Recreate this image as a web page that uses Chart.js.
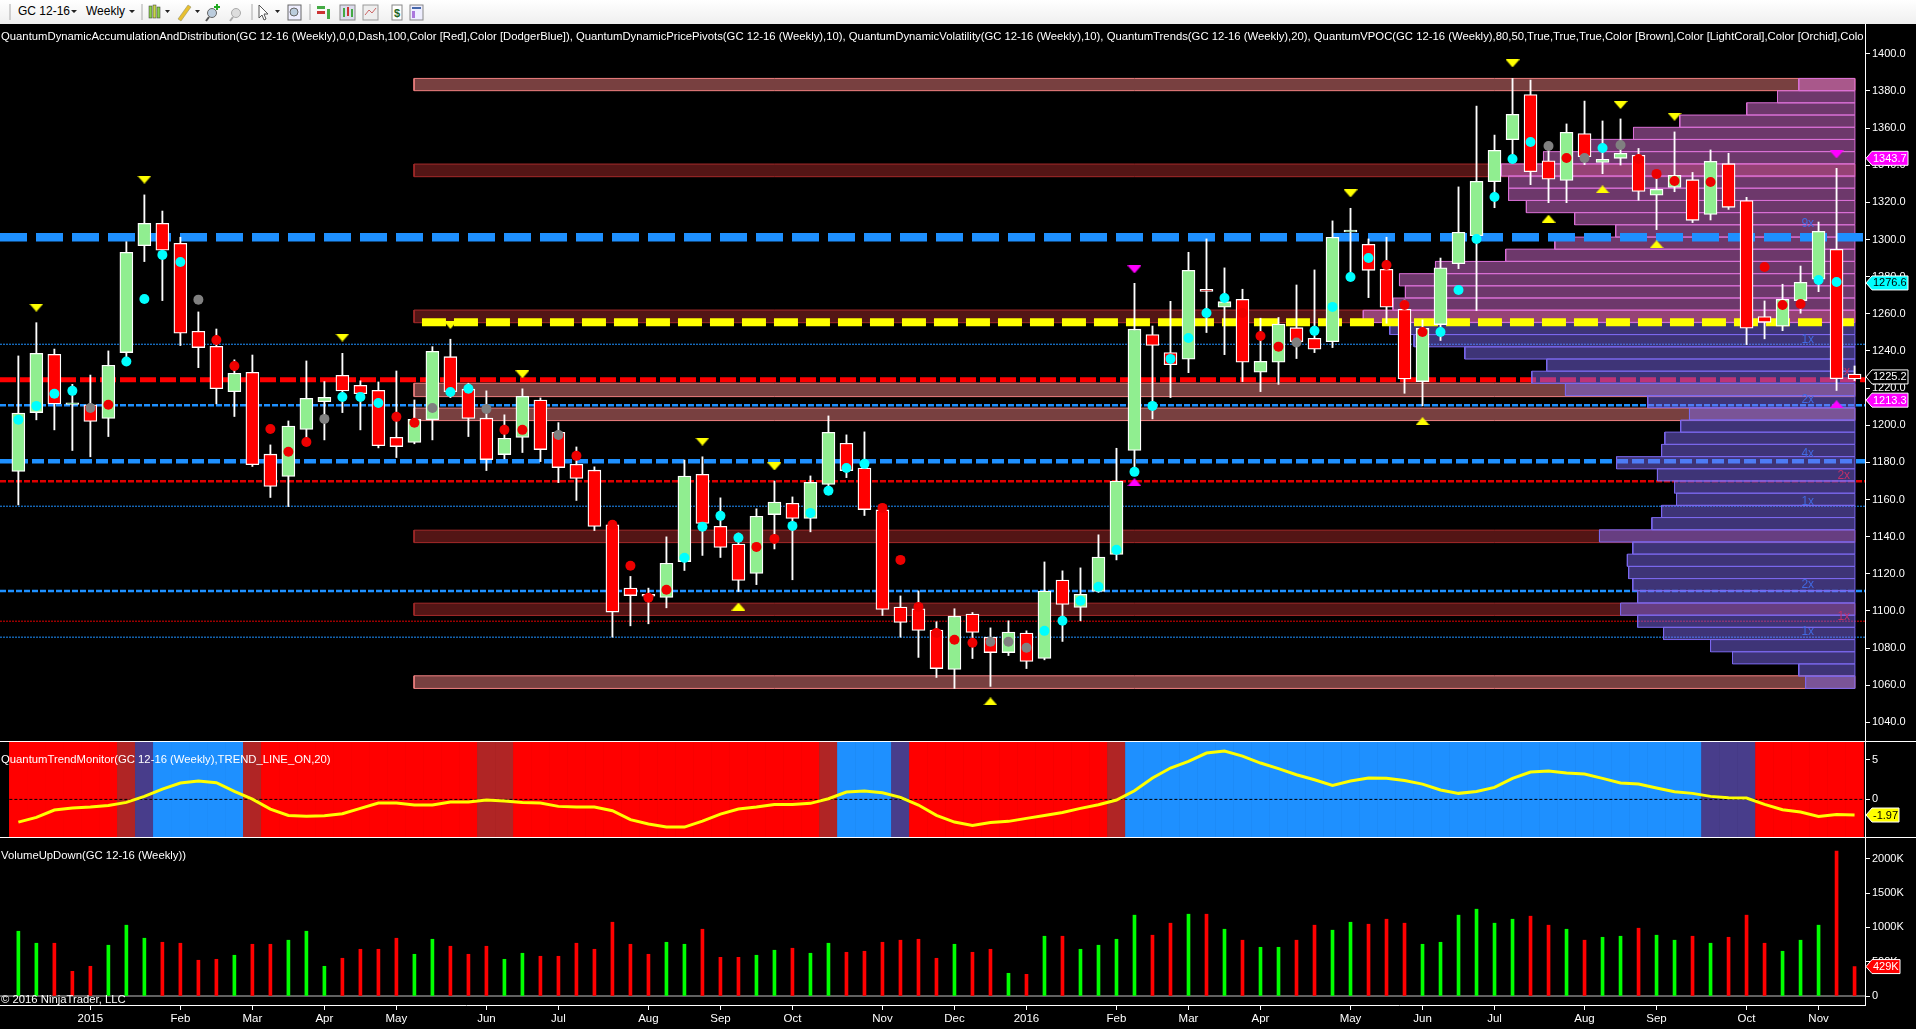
<!DOCTYPE html>
<html>
<head>
<meta charset="utf-8">
<title>GC 12-16 Weekly</title>
<script src="https://cdn.jsdelivr.net/npm/chart.js@4"></script>
<style>
html, body { margin: 0; padding: 0; background: #000; overflow: hidden; }
body { width: 1916px; height: 1029px; position: relative; font-family: "Liberation Sans", Arial, sans-serif; }
canvas { position: absolute; left: 0; display: block; }
.toolbar { position: absolute; left: 0; top: 0; width: 1916px; height: 24px; background: linear-gradient(#ffffff, #efefef); color: #000; font-size: 12px; }
.toolbar span { position: absolute; top: 4px; }
.toolbar svg { position: absolute; left: 0; top: 0; }
.note { position: absolute; color: #fff; font-size: 11.3px; line-height: 14px; white-space: nowrap; overflow: hidden; z-index: 3; }
.rule { position: absolute; left: 0; width: 1916px; height: 1px; background: #fff; z-index: 2; }
</style>
</head>
<body>
<div class="toolbar">
  <span style="left:18px">GC 12-16</span>
  <span style="left:86px">Weekly</span>
  <svg width="520" height="24">
    <path d="M71 10l6 0-3 3zM129 10l6 0-3 3zM165 10l5 0-2.5 3zM195 10l5 0-2.5 3zM275 10l5 0-2.5 3z" fill="#222"/>
    <path d="M10 4v16M142 4v16M252 4v16M310 4v16" stroke="#aaa"/>
    <rect x="149" y="6" width="3" height="12" fill="#8ad04a" stroke="#333" stroke-width=".5"/>
    <rect x="153" y="5" width="3" height="13" fill="#c8d84a" stroke="#333" stroke-width=".5"/>
    <rect x="157" y="7" width="3" height="11" fill="#8ad04a" stroke="#333" stroke-width=".5"/>
    <path d="M178 19l10-14 3 2-10 14z" fill="#e8c030" stroke="#886" stroke-width=".5"/>
    <circle cx="212" cy="13" r="4.5" fill="#bcd" stroke="#666"/><path d="M209 17l-3 4" stroke="#555" stroke-width="2"/><path d="M217 4v6M214 7h6" stroke="#2a2" stroke-width="2"/>
    <circle cx="236" cy="13" r="4.5" fill="#ddd" stroke="#aaa"/><path d="M233 17l-3 4" stroke="#aaa" stroke-width="2"/>
    <path d="M259 5l9 9-4 0 2 5-2 1-2-5-3 3z" fill="#fff" stroke="#555"/>
    <rect x="288" y="5" width="13" height="15" fill="#eef" stroke="#666"/><circle cx="294" cy="12" r="4" fill="#bcd" stroke="#666"/>
    <rect x="317" y="6" width="8" height="3" fill="#4a4"/><rect x="317" y="11" width="8" height="3" fill="#c33"/><rect x="327" y="9" width="3" height="10" fill="#4a4"/>
    <rect x="340" y="5" width="15" height="15" fill="#dde" stroke="#888"/><rect x="343" y="8" width="2" height="9" fill="#4a4"/><rect x="347" y="7" width="2" height="9" fill="#c33"/><rect x="351" y="9" width="2" height="8" fill="#4a4"/>
    <rect x="363" y="5" width="15" height="15" fill="#eee" stroke="#999"/><path d="M365 15l4-5 3 3 4-5" stroke="#c66" fill="none"/>
    <rect x="392" y="5" width="10" height="15" fill="#fff" stroke="#888"/><text x="394" y="17" font-size="11" font-weight="bold" fill="#262">$</text>
    <rect x="410" y="5" width="13" height="15" fill="#eef" stroke="#888"/><path d="M412 8h9" stroke="#46a" stroke-width="2"/><rect x="412" y="11" width="3" height="7" fill="#a7d"/>
  </svg>
</div>
<div class="note" style="left:1px;top:29px;width:1863px">QuantumDynamicAccumulationAndDistribution(GC 12-16 (Weekly),0,0,Dash,100,Color [Red],Color [DodgerBlue]), QuantumDynamicPricePivots(GC 12-16 (Weekly),10), QuantumDynamicVolatility(GC 12-16 (Weekly),10), QuantumTrends(GC 12-16 (Weekly),20), QuantumVPOC(GC 12-16 (Weekly),80,50,True,True,True,Color [Brown],Color [LightCoral],Color [Orchid],Color [MediumSlateBlue])</div>
<div class="note" style="left:1px;top:752px">QuantumTrendMonitor(GC 12-16 (Weekly),TREND_LINE_ON,20)</div>
<div class="note" style="left:1px;top:848px">VolumeUpDown(GC 12-16 (Weekly))</div>
<div class="note" style="left:1px;top:992px">© 2016 NinjaTrader, LLC</div>
<div class="rule" style="top:741px"></div>
<div class="rule" style="top:837px"></div>
<canvas id="priceChart" width="1916" height="717" style="top:24px"></canvas>
<canvas id="trendChart" width="1916" height="96" style="top:741px"></canvas>
<canvas id="volumeChart" width="1916" height="192" style="top:837px"></canvas>

<script>
// weekly GC 12-16 bars
const opens = [1175.1,1206.8,1238.2,1211.2,1211,1203.6,1239.1,1296.7,1308.7,1297.9,1250.6,1242.5,1218.1,1228.5,1184.4,1172.4,1197.7,1212.7,1226.9,1221.5,1218.8,1193.5,1190.7,1203,1236.9,1219.4,1203.8,1184.2,1193.4,1213.5,1196.2,1179,1175.8,1146.4,1112.3,1108.9,1107.3,1126.6,1173.6,1145.6,1136,1120.2,1151.9,1158,1149.8,1168.1,1190.3,1176.9,1154.4,1102.1,1101.2,1089.7,1068.5,1098.3,1085.9,1077.6,1088.1,1074.4,1116.6,1101.9,1110.5,1130.4,1186.4,1248.8,1239.1,1235.5,1273.2,1263.5,1267.8,1228.5,1233.9,1252.5,1246.8,1245,1304,1297.4,1283.9,1262.4,1223.5,1254.2,1287,1302,1331.1,1353.7,1378,1342.4,1331.8,1357,1341.5,1343.7,1345.3,1323.8,1328,1332.2,1313.5,1340.8,1320.9,1258.5,1253.3,1267.1,1278.6,1294.7,1227.6];
const highs = [1237.3,1255.2,1241,1222,1227,1240,1298.8,1324,1315.3,1301.2,1261,1251.8,1235.2,1237.8,1189.4,1202.3,1234.6,1223.5,1238.7,1223.9,1223.3,1229.2,1213.6,1242.3,1246.3,1222.6,1218.5,1205.6,1219.6,1214.7,1201.4,1188.3,1177.6,1147.5,1118.6,1112.3,1139.9,1181.3,1183,1160.9,1142,1155,1170,1161.4,1172.7,1205,1194.8,1196.4,1157,1108.1,1110.8,1094.2,1101.2,1099.2,1090.9,1094.7,1089.3,1126.4,1121.6,1123.2,1141,1187.6,1276.4,1253.4,1266.7,1293.1,1300.3,1284.7,1273.2,1257.6,1258,1275.5,1283.6,1310,1316.8,1300.3,1301.2,1267.4,1256.7,1290,1328.3,1371.8,1356.2,1386.7,1385.8,1351,1362.2,1374.5,1363.8,1364.9,1349,1335.6,1357.9,1336.1,1348.2,1346.4,1322.7,1266.9,1275.9,1285.7,1309.4,1338.3,1231.9];
const lows = [1157.1,1202.9,1197.5,1186.4,1183,1193.9,1234,1288.1,1267.1,1242.9,1231,1211.5,1204.7,1177.8,1161.1,1156.2,1189.4,1192.1,1206.8,1197.5,1187.8,1182.6,1190,1192.1,1214.9,1193.9,1175.6,1181.9,1185.3,1180.4,1169.1,1159.5,1143.3,1085.9,1092,1093.1,1101.7,1121.8,1129.9,1128.8,1110.5,1114.2,1133.4,1116.8,1142.6,1165.2,1171.8,1151.4,1097.6,1085.9,1075,1064.2,1058.3,1074.4,1059.4,1076,1069,1073.7,1083.6,1094.7,1110,1127.5,1177.4,1203.4,1214.9,1228.3,1249.9,1238,1223.5,1218.1,1222,1235.9,1239.1,1241.8,1282,1268.7,1254.9,1217.2,1210.4,1245.6,1284.3,1261.7,1317.1,1341,1329.5,1319.8,1319.8,1340.3,1335.4,1340.1,1321.1,1305.3,1325.7,1309.1,1310.5,1316.2,1243.4,1246.5,1250.9,1260.3,1271.9,1218.7,1224];
const closes = [1206.6,1238.7,1211.5,1212,1202,1232.3,1293.1,1308.7,1294.2,1249.5,1241.8,1219.7,1228,1178.8,1167,1199.5,1214.5,1215,1218.5,1217,1189,1188.5,1203.2,1239.8,1218.1,1203.6,1181.5,1193,1215.6,1186.9,1177.2,1171.3,1145.5,1099.4,1108.3,1108,1125.7,1172.6,1147.1,1134.2,1116.4,1151,1158.6,1149.8,1169.3,1196.2,1175.6,1154.6,1100.8,1093.8,1089.5,1069,1097.2,1088.4,1077.6,1088.6,1072.8,1110.7,1103.5,1109,1129,1169.9,1251.7,1243,1232.6,1283.4,1272.1,1266.5,1233.9,1234.4,1254.5,1245,1240.9,1301.2,1305,1283.4,1263.5,1224.9,1252.2,1284.8,1303.9,1331.3,1348,1367.4,1336.5,1332.4,1357.7,1344.6,1343.2,1346.4,1325.9,1327,1334.5,1310.3,1342.1,1317.3,1252.2,1255.4,1267.8,1276.9,1304.4,1225,1224.9];

// volatility dots, one per bar, c cyan, r red, g grey, n none
const dotPrices = [1202.9,1210.4,1216.9,1218.5,1209.3,1211,1234.3,1268,1291.7,1287.9,1267.6,1245.9,1231.9,null,1198,1185.7,1191,1203.4,1215.2,1215.2,1212,1204.5,1201.3,1209.3,1217.9,1219.6,1208.8,1197.5,1197.5,null,1194.8,1183.5,null,1146.4,1124.3,1107.1,1111.4,1128.6,1145.3,1151.2,1139.4,1134.5,1138.8,1145.8,1152.8,1164.7,1177,1179.2,1155.5,1127.5,1102.2,1088.2,1084.5,1082.9,1083.4,1083.4,1080.2,1089.3,1094.7,1105.5,1113,1132.9,1174.9,1210.4,1235.7,1247,1260.4,1268.5,1260.4,1248,1242.3,1244.5,1250.8,1263.7,1279.8,1290,1286.3,1264.7,1250.2,1250.2,1272.8,1300.3,1322.9,1343.3,1352.5,1350.3,1343.9,1343.9,1349.2,1350.9,1343.3,1335.3,1331.5,null,1330.9,null,null,1285.2,1264.7,1265.3,1278.2,1277.1,null];
const dotKinds = 'ccccgrccccgrrnrrrgcccrrgccgrrngrnrrrrccccrrcccccrrrrrrgggcccccccccccrrrgccccrrrccccccgrgcgrrngnnrrrrcn';

// pivot triangles
const pivotHighBars = [1,7,18,24,28,38,42,74,83,89,92];
const pivotHighPrices = [1263.3,1332.2,1247.2,1254,1227.4,1191.2,1177.8,1324.8,1394.8,1372.4,1366.1];
const pivotLowBars = [40,54,78,85,88,91];
const pivotLowPrices = [1102.4,1051.3,1202.2,1311.2,1327,1297.4];
const extremeHighBars = [62,101];
const extremeHighPrices = [1283.9,1345.8];
const extremeLowBars = [62,101];
const extremeLowPrices = [1169.3,1211.3];

// accumulation / distribution zones [low, high]
const coralZones = [[1380.1,1386.7],[1215.4,1222.6],[1202.5,1209.2],[1058.3,1065.1]];
const brownZones = [[1333.8,1340.6],[1255.2,1262],[1136.8,1143.5],[1097.6,1104.2]];
const zoneFirstBar = 21.98;
const zoneLastBar = 102.02;

// volume profile on the right, band price and left end (in bars)
const profilePrices = [1383.4,1376.8,1370.3,1363.7,1357.1,1350.6,1344,1337.4,1330.9,1324.3,1317.7,1311.2,1304.6,1298,1291.5,1284.9,1278.3,1271.8,1265.2,1258.6,1252.1,1245.5,1238.9,1232.4,1225.8,1219.2,1212.7,1206.1,1199.5,1193,1186.4,1179.8,1173.3,1166.7,1160.1,1153.6,1147,1140.4,1133.9,1127.3,1120.7,1114.2,1107.6,1101,1094.5,1087.9,1081.3,1074.8,1068.2,1061.6];
const profileLeft = [98.9,97.72,96.01,92.29,89.72,87.27,84.72,82.37,82.78,82.78,83.77,86.45,88.73,85.35,82.62,78.72,76.72,77.05,76.36,74.71,76.18,77.53,80.35,84.9,84.07,85.94,90.51,92.83,92.34,91.46,91.28,88.78,91.05,92,92.11,91.28,90.74,87.83,89.68,89.38,89.45,89.68,89.95,89,89.95,91.39,94,95.22,98.9,99.28];
const profileOrchidRows = 20;
const profileHalfBand = 3.28;
const profileTags = [['9x',99.4,1308.3,'#4169e1'],['1x',99.4,1246.3,'#4169e1'],['2x',101.4,1228.9,'#c0306a'],['2x',99.4,1214,'#4169e1'],['4x',99.4,1184.9,'#4169e1'],['2x',101.4,1173.1,'#c0306a'],['1x',99.4,1159.1,'#4169e1'],['2x',99.4,1113.9,'#4169e1'],['1x',101.4,1097,'#c0306a'],['1x',99.4,1088.6,'#4169e1']];

// horizontal levels: price, first bar, last bar, colour, width, dash
const levelsUnder = [
  [1224.5,-1.02,102.58,'#ff0000',5,[16,4]],
  [1210.8,-1.02,102.58,'#1e90ff',2.5,[6,2]],
  [1180.6,-1.02,102.58,'#1e90ff',4.5,[12,4]],
  [1169.9,-1.02,102.58,'#e00000',2.5,[6,2]],
  [1243.6,-1.02,102.58,'#1e90ff',1,[2,1]],
  [1156.4,-1.02,102.58,'#1e90ff',1,[2,1]],
  [1110.7,-1.02,102.58,'#1e90ff',2.5,[6,2]],
  [1094.5,-1.02,102.58,'#e00000',1,[2,1]],
  [1085.9,-1.02,102.58,'#1e90ff',1,[2,1]]
];
const levelsOver = [
  [1301.2,-1.02,102.58,'#1e90ff',8.5,[27,9]],
  [1255.4,22.42,102.02,'#ffff00',8,[24,8]]
];

const priceTicks = [1040,1060,1080,1100,1120,1140,1160,1180,1200,1220,1240,1260,1280,1300,1320,1340,1360,1380,1400];
const priceFlags = [[1343.7,'1343.7','#ff00ff','#fff','#fff'],[1276.6,'1276.6','#00ffff','#000','#fff'],[1226,'1225.2','#000','#fff','#fff'],[1213.5,'1213.3','#ff00ff','#fff','#fff']];

// trend monitor pane
const trendStates = 'rrrrrr' + 'f' + 's' + 'bbbbb' + 'f' + 'rrrrrrrrrrrr' + 'ff' + 'rrrrrrrrrrrrrrrrr' + 'f' + 'bbb' + 's' + 'rrrrrrrrrrr' + 'f' + 'bbbbbbbbbbbbbbbbbbbbbbbbbbbbbbbb' + 'sss' + 'rrrrrr';
const trendLine = [-2.86,-2.27,-1.34,-1.09,-0.97,-0.76,-0.38,0.38,1.3,2.06,2.31,2.1,1,0.04,-1.22,-2.02,-2.14,-2.06,-1.81,-1.13,-0.46,-0.46,-0.71,-0.71,-0.34,-0.34,-0.08,-0.21,-0.38,-0.46,-0.88,-0.97,-0.97,-1.43,-2.56,-3.11,-3.49,-3.49,-2.73,-1.85,-1.22,-0.97,-0.63,-0.63,-0.5,0.08,0.92,1.05,0.84,0.25,-0.71,-2.02,-2.86,-3.28,-2.9,-2.77,-2.39,-2.02,-1.64,-1.13,-0.67,-0.08,1.09,2.69,3.95,4.79,5.84,6.09,5.46,4.58,3.87,3.11,2.48,1.76,2.31,2.69,2.65,2.39,1.93,1.18,0.76,1,1.51,2.65,3.45,3.57,3.32,3.19,2.65,2.06,1.93,1.43,0.97,0.76,0.38,0.21,0.17,-0.63,-1.3,-1.6,-2.14,-1.89,-1.97];
const trendTicks = [0,5];

// volume pane, in thousands
const volumes = [944,769,769,360,433,740,1032,842,783,769,521,535,594,754,754,813,944,433,550,681,681,842,608,827,725,608,725,535,623,579,579,769,681,1075,754,608,783,754,973,564,564,594,667,696,623,769,637,652,783,813,827,550,754,637,681,331,316,871,871,681,740,827,1178,886,1061,1192,1192,973,813,710,710,813,1032,959,1075,1046,1119,1061,754,783,1178,1265,1061,1119,1163,1032,973,813,856,871,988,886,813,871,769,856,1178,769,652,813,1032,2112,429];
const volumeKinds = 'GGRRRGGGRR' + 'RRGRRGGGRR' + 'RRGGRRRGGR' + 'RRRRRRGGRR' + 'RGGRGGRRRR' + 'RRGRRGRGRG' + 'GGGRRGRGRG' + 'GRRGGRRRGG' + 'GGGGRRGRGG' + 'RGGRGRRRGG' + 'GRR';
const volumeTicks = [0,500,1000,1500,2000];

const monthBars = [4,9,13,17,21,26,30,35,39,43,48,52,56,61,65,69,74,78,82,87,91,96,100];
const monthLabels = ['2015','Feb','Mar','Apr','May','Jun','Jul','Aug','Sep','Oct','Nov','Dec','2016','Feb','Mar','Apr','May','Jun','Jul','Aug','Sep','Oct','Nov'];

const xMin = -1.02, xMax = 102.58;
const axisWidth = 51;
const fontName = '"Liberation Sans", Arial, sans-serif';
const dotColors = { c: '#00ffff', r: '#ee0000', g: '#808080' };
const trendColors = { r: '#ff0000', f: '#b02525', s: '#483d8b', b: '#1e90ff' };
const barIndex = opens.map(function(_, i) { return i; });

function triangle(color, up) {
  const c = document.createElement('canvas');
  c.width = 14; c.height = 8;
  const g = c.getContext('2d');
  g.fillStyle = color;
  g.beginPath();
  if (up) { g.moveTo(7, 0); g.lineTo(14, 8); g.lineTo(0, 8); }
  else { g.moveTo(0, 0); g.lineTo(14, 0); g.lineTo(7, 8); }
  g.closePath();
  g.fill();
  return c;
}

function pivots(bars, prices, color, up) {
  return {
    type: 'line', showLine: false, order: 1,
    data: bars.map(function(b, i) { return { x: b, y: prices[i] }; }),
    pointStyle: triangle(color, up), pointRadius: 5
  };
}

function level(l, order) {
  return {
    type: 'line', order: order,
    data: [{ x: l[1], y: l[0] }, { x: l[2], y: l[0] }],
    borderColor: l[3], borderWidth: l[4], borderDash: l[5], pointRadius: 0
  };
}

// a closed box between two prices, used for the zones and the profile rows
function box(first, last, low, high, fill, line, order) {
  return {
    type: 'line', order: order, fill: 'shape', tension: 0, pointRadius: 0, borderWidth: 1,
    backgroundColor: fill, borderColor: line,
    data: [
      { x: first, y: low }, { x: last, y: low },
      { x: last, y: high }, { x: first, y: high }, { x: first, y: low }
    ]
  };
}

function profileRow(p, i) {
  const orchid = i < profileOrchidRows;
  const row = box(profileLeft[i], zoneLastBar, p - profileHalfBand, p + profileHalfBand,
    orchid ? 'rgba(218,112,214,0.5)' : 'rgba(123,104,238,0.5)', orchid ? '#da70d6' : '#7b68ee', 10);
  if (i === 0) row.label = 'profile'; // drawn last of its order
  return row;
}

function hidden(axis, min, max) {
  return { type: 'linear', axis: axis, display: false, offset: false, grid: { offset: false }, min: min, max: max };
}

function flagPlugin(axisId, flags) {
  return {
    id: 'flags',
    afterDraw: function(chart) {
      const g = chart.ctx, y = chart.scales[axisId];
      g.save();
      g.font = '11px ' + fontName;
      g.textBaseline = 'middle';
      flags.forEach(function(f) {
        const py = y.getPixelForValue(f[0]), left = 1866, right = f[5] || 1908;
        g.beginPath();
        g.moveTo(left, py);
        g.lineTo(left + 6, py - 7);
        g.lineTo(right, py - 7);
        g.lineTo(right, py + 7);
        g.lineTo(left + 6, py + 7);
        g.closePath();
        g.fillStyle = f[2];
        g.fill();
        g.strokeStyle = f[4];
        g.lineWidth = 1;
        g.stroke();
        g.fillStyle = f[3];
        g.fillText(f[1], left + 7, py + 0.5);
      });
      g.restore();
    }
  };
}

const tagPlugin = {
  id: 'profileTags',
  afterDatasetDraw: function(chart, args) {
    if (args.meta.label !== 'profile') return;
    const g = chart.ctx;
    g.save();
    g.font = '12px ' + fontName;
    g.textAlign = 'center';
    g.textBaseline = 'middle';
    profileTags.forEach(function(t) {
      g.fillStyle = t[3];
      g.fillText(t[0], chart.scales.x.getPixelForValue(t[1]), chart.scales.y.getPixelForValue(t[2]));
    });
    g.restore();
  }
};

function rightAxis(min, max, values, label) {
  return {
    type: 'linear', position: 'right', offset: false, min: min, max: max,
    afterFit: function(s) { s.width = axisWidth; s.paddingTop = 0; s.paddingBottom = 0; },
    afterBuildTicks: function(s) { s.ticks = values.map(function(v) { return { value: v }; }); },
    border: { display: true, color: '#fff', width: 1 },
    grid: { drawOnChartArea: false, offset: false, color: '#fff', tickLength: 5 },
    ticks: { color: '#fff', padding: 2, autoSkip: false, font: { family: fontName, size: 11 }, callback: label }
  };
}

Chart.defaults.animation = false;
Chart.defaults.responsive = false;
Chart.defaults.devicePixelRatio = 1;
Chart.defaults.plugins.legend.display = false;
Chart.defaults.plugins.tooltip.enabled = false;
Chart.defaults.layout.padding = 0;
Chart.defaults.layout.autoPadding = false;

new Chart(document.getElementById('priceChart'), {
  data: {
    datasets: coralZones.map(function(z) { return box(zoneFirstBar, zoneLastBar, z[0], z[1], 'rgba(240,128,128,0.5)', '#f08080', 20); })
    .concat(brownZones.map(function(z) { return box(zoneFirstBar, zoneLastBar, z[0], z[1], 'rgba(165,42,42,0.5)', '#a52a2a', 20); }))
    .concat(levelsUnder.map(function(l) { return level(l, 15); }))
    .concat(profilePrices.map(profileRow))
    .concat(levelsOver.map(function(l) { return level(l, 8); })).concat([
      {
        type: 'bar', order: 5, grouped: false,
        data: barIndex.map(function(i) { return { x: i, y: [lows[i], highs[i]] }; }),
        backgroundColor: '#fff', borderWidth: 0, barPercentage: 1, categoryPercentage: 1, maxBarThickness: 1.2
      },
      {
        type: 'bar', order: 4, grouped: false,
        data: barIndex.map(function(i) { return { x: i, y: [opens[i], closes[i]] }; }),
        backgroundColor: barIndex.map(function(i) { return closes[i] >= opens[i] ? '#90ee90' : '#ff0000'; }),
        borderColor: '#fff', borderWidth: 1.3, borderSkipped: false,
        barPercentage: 1, categoryPercentage: 1, maxBarThickness: 13
      },
      {
        type: 'line', showLine: false, order: 2,
        data: barIndex.filter(function(i) { return dotPrices[i] !== null; }).map(function(i) { return { x: i, y: dotPrices[i] }; }),
        pointRadius: 5, pointBorderWidth: 0,
        pointBackgroundColor: barIndex.filter(function(i) { return dotPrices[i] !== null; }).map(function(i) { return dotColors[dotKinds[i]]; })
      },
      pivots(pivotHighBars, pivotHighPrices, '#ffff00', false),
      pivots(pivotLowBars, pivotLowPrices, '#ffff00', true),
      pivots(extremeHighBars, extremeHighPrices, '#ff00ff', false),
      pivots(extremeLowBars, extremeLowPrices, '#ff00ff', true)
    ])
  },
  options: {
    scales: {
      x: hidden('x', xMin, xMax),
      y: rightAxis(1030, 1416, priceTicks, function(v) { return v.toFixed(1); })
    }
  },
  plugins: [tagPlugin, flagPlugin('y', priceFlags)]
});

new Chart(document.getElementById('trendChart'), {
  data: {
    datasets: [
      {
        type: 'bar', order: 3, grouped: false,
        data: barIndex.map(function(i) { return { x: i, y: [-4.74, 7.36] }; }),
        backgroundColor: barIndex.map(function(i) { return trendColors[trendStates[i]]; }),
        barPercentage: 1, categoryPercentage: 1
      },
      {
        type: 'line', order: 2,
        data: [{ x: -0.5, y: 0 }, { x: xMax, y: 0 }],
        borderColor: '#000', borderWidth: 1, borderDash: [3, 2], pointRadius: 0
      },
      {
        type: 'line', order: 1,
        data: barIndex.map(function(i) { return { x: i, y: trendLine[i] }; }),
        borderColor: '#ffff00', borderWidth: 3, pointRadius: 0, tension: 0
      }
    ]
  },
  options: {
    scales: {
      x: hidden('x', xMin, xMax),
      y: rightAxis(-4.74, 7.36, trendTicks, function(v) { return String(v); })
    }
  },
  plugins: [flagPlugin('y', [[-1.97, '-1.97', '#ffff00', '#000', '#fff', 1899]])]
});

new Chart(document.getElementById('volumeChart'), {
  data: {
    datasets: [
      {
        type: 'line', order: 2,
        data: [{ x: xMin, y: 0 }, { x: xMax, y: 0 }],
        borderColor: '#808080', borderWidth: 1.5, pointRadius: 0
      },
      {
        type: 'bar', order: 1, grouped: false,
        data: barIndex.map(function(i) { return { x: i, y: volumes[i] }; }),
        backgroundColor: barIndex.map(function(i) { return volumeKinds[i] === 'G' ? '#00ff00' : '#ff0000'; }),
        barPercentage: 1, categoryPercentage: 1, maxBarThickness: 3
      }
    ]
  },
  options: {
    scales: {
      x: {
        type: 'linear', position: 'bottom', offset: false, min: xMin, max: xMax,
        afterFit: function(s) { s.height = 24; },
        afterBuildTicks: function(s) { s.ticks = monthBars.map(function(v) { return { value: v }; }); },
        border: { display: true, color: '#fff', width: 1 },
        grid: { drawOnChartArea: false, offset: false, color: '#fff', tickLength: 5 },
        ticks: {
          color: '#fff', padding: 2, autoSkip: false, maxRotation: 0,
          font: { family: fontName, size: 11.5 },
          callback: function(v) { return monthLabels[monthBars.indexOf(v)]; }
        }
      },
      y: rightAxis(-131, 2317, volumeTicks, function(v) { return v === 0 ? '0' : v + 'K'; })
    }
  },
  plugins: [flagPlugin('y', [[429, '429K', '#ff0000', '#fff', '#fff', 1900]])]
});
</script>
</body>
</html>
